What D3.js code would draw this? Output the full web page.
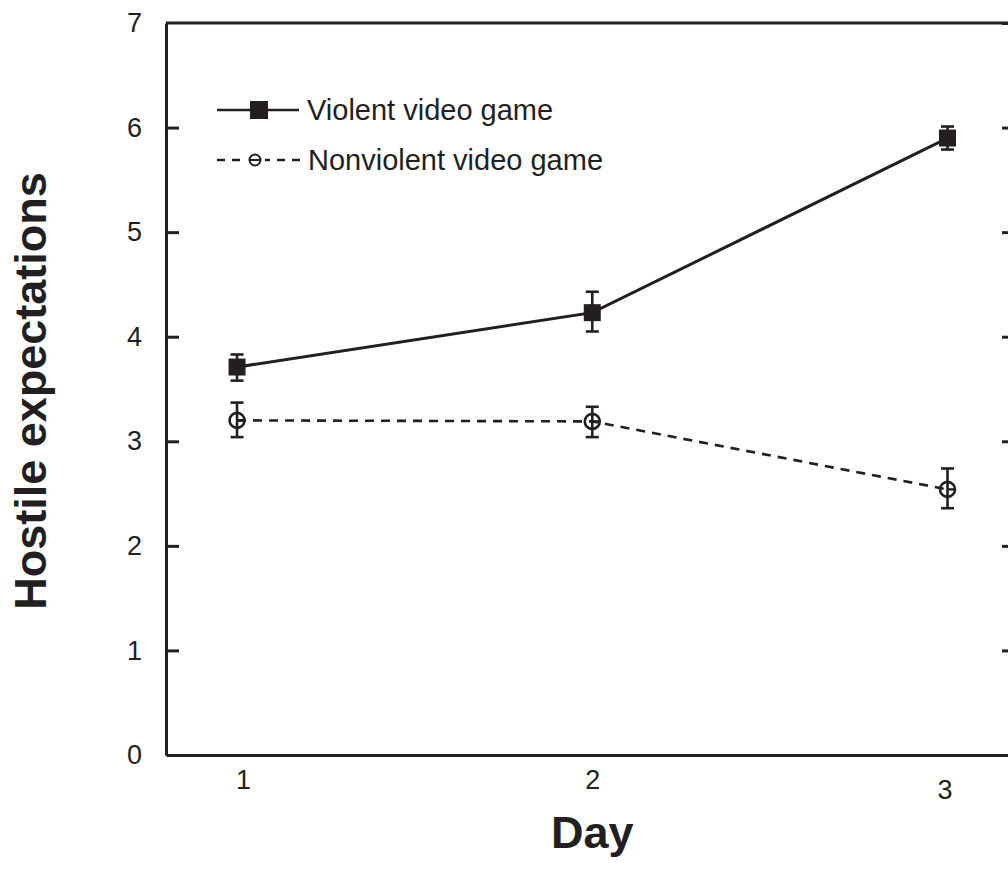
<!DOCTYPE html>
<meta charset="utf-8">
<style>
    body { margin: 0; background: #fff; }
    svg { display: block; }
    .axis text {
        font: 27px Arial, "Liberation Sans", Helvetica, sans-serif;
        fill: #231f20;
    }
    .axis path, .axis line {
        stroke: #231f20;
        stroke-width: 3px;
    }
    .title {
        font: bold 45px Arial, "Liberation Sans", Helvetica, sans-serif;
        fill: #231f20;
        text-anchor: middle;
    }
    .legend text {
        font: 29px Arial, "Liberation Sans", Helvetica, sans-serif;
        fill: #231f20;
    }
</style>
<svg width="1008" height="885"></svg>
<script src="https://d3js.org/d3.v7.min.js"></script>
<script>

    // values
    var days = [1, 2, 3];
    var yTicks = [0, 1, 2, 3, 4, 5, 6, 7];

    var violentMean = [3.71, 4.23, 5.90];
    var violentLow  = [3.58, 4.05, 5.79];
    var violentHigh = [3.83, 4.43, 6.01];

    var nonviolentMean = [3.20, 3.19, 2.54];
    var nonviolentLow  = [3.04, 3.04, 2.36];
    var nonviolentHigh = [3.37, 3.33, 2.74];

    var seriesNames = ["Violent video game", "Nonviolent video game"];

    var ink = "#231f20";

    var svg = d3.select("svg");

    var mLeft = 166, mRight = 1015, mTop = 23, mBottom = 755;

    var x = d3.scaleLinear().domain([0.8, 3.19]).range([mLeft, mRight]);
    var y = d3.scaleLinear().domain([0, 7]).range([mBottom, mTop]);

    // frame: left axis with labels, right axis ticks only, top + bottom lines
    svg.append("g")
        .attr("class", "axis")
        .attr("transform", "translate(" + mLeft + ",0)")
        .call(d3.axisLeft(y).tickValues(yTicks).tickSize(-13).tickSizeOuter(0).tickPadding(24).tickFormat(d3.format("d")))
        .call(function (g) { g.selectAll(".tick").filter(function (d) { return d === 0 || d === 7; }).select("line").remove(); });

    svg.append("g")
        .attr("class", "axis")
        .attr("transform", "translate(" + mRight + ",0)")
        .call(d3.axisRight(y).tickValues(yTicks).tickSize(-13).tickSizeOuter(0).tickFormat(""));

    svg.append("g")
        .attr("class", "axis")
        .attr("transform", "translate(0," + mBottom + ")")
        .call(d3.axisBottom(x).tickValues(days).tickSize(0).tickSizeOuter(0).tickPadding(14).tickFormat(d3.format("d")))
        .call(function (g) { g.selectAll(".tick text").attr("dx", function (d) { return d === 1 ? 6 : d === 3 ? -3 : 0; })
            .attr("dy", function (d) { return d === 3 ? "1.1em" : "0.75em"; }); });

    svg.append("line")
        .attr("x1", mLeft).attr("x2", mRight)
        .attr("y1", mTop).attr("y2", mTop)
        .attr("stroke", ink).attr("stroke-width", 3);

    // axis titles
    svg.append("text")
        .attr("class", "title")
        .attr("x", (x(1) + x(3)) / 2)
        .attr("y", 848)
        .text("Day");

    svg.append("text")
        .attr("class", "title")
        .attr("transform", "translate(46," + (y(3.5) + 2) + ") rotate(-90)")
        .text("Hostile expectations");

    var line = d3.line()
        .x(function (d, i) { return x(days[i]); })
        .y(function (d) { return y(d); });

    // nonviolent: dashed line, error bars, open circles
    svg.append("path")
        .datum(nonviolentMean)
        .attr("d", line)
        .attr("fill", "none")
        .attr("stroke", ink)
        .attr("stroke-width", 2.6)
        .attr("stroke-dasharray", "9,7");

    function errorBars(low, high) {
        var g = svg.append("g").attr("stroke", ink).attr("stroke-width", 2.6);
        days.forEach(function (d, i) {
            g.append("line")
                .attr("x1", x(d)).attr("x2", x(d))
                .attr("y1", y(low[i])).attr("y2", y(high[i]));
            [low[i], high[i]].forEach(function (v) {
                g.append("line")
                    .attr("x1", x(d) - 6.5).attr("x2", x(d) + 6.5)
                    .attr("y1", y(v)).attr("y2", y(v));
            });
        });
    }

    errorBars(nonviolentLow, nonviolentHigh);

    svg.append("g").selectAll("circle")
        .data(nonviolentMean)
        .join("circle")
        .attr("cx", function (d, i) { return x(days[i]); })
        .attr("cy", function (d) { return y(d); })
        .attr("r", 7.5)
        .attr("fill", "none")
        .attr("stroke", ink)
        .attr("stroke-width", 2.6);

    svg.append("g").selectAll("line")
        .data(nonviolentMean)
        .join("line")
        .attr("x1", function (d, i) { return x(days[i]); })
        .attr("x2", function (d, i) { return x(days[i]) + 8; })
        .attr("y1", function (d) { return y(d); })
        .attr("y2", function (d) { return y(d); })
        .attr("stroke", ink)
        .attr("stroke-width", 2.4);

    // violent: solid line, error bars, filled squares
    svg.append("path")
        .datum(violentMean)
        .attr("d", line)
        .attr("fill", "none")
        .attr("stroke", ink)
        .attr("stroke-width", 3);

    errorBars(violentLow, violentHigh);

    var sq = 17;
    svg.append("g").selectAll("rect")
        .data(violentMean)
        .join("rect")
        .attr("x", function (d, i) { return x(days[i]) - sq / 2; })
        .attr("y", function (d) { return y(d) - sq / 2; })
        .attr("width", sq)
        .attr("height", sq)
        .attr("fill", ink);

    // legend
    var legend = svg.append("g").attr("class", "legend");

    legend.append("line")
        .attr("x1", 217).attr("x2", 299)
        .attr("y1", 110).attr("y2", 110)
        .attr("stroke", ink).attr("stroke-width", 2.6);
    legend.append("rect")
        .attr("x", 250).attr("y", 101)
        .attr("width", 18).attr("height", 18)
        .attr("fill", ink);
    legend.append("text")
        .attr("x", 307).attr("y", 110).attr("dy", "0.36em")
        .text(seriesNames[0]);

    legend.append("line")
        .attr("x1", 217).attr("x2", 304)
        .attr("y1", 160).attr("y2", 160)
        .attr("stroke", ink).attr("stroke-width", 2.4)
        .attr("stroke-dasharray", "8,7");
    legend.append("rect")
        .attr("x", 245).attr("y", 150)
        .attr("width", 20).attr("height", 20)
        .attr("fill", "#fff");
    legend.append("circle")
        .attr("cx", 255).attr("cy", 160).attr("r", 5.5)
        .attr("fill", "none").attr("stroke", ink).attr("stroke-width", 2);
    legend.append("line")
        .attr("x1", 250).attr("x2", 260)
        .attr("y1", 160).attr("y2", 160)
        .attr("stroke", ink).attr("stroke-width", 2);
    legend.append("text")
        .attr("x", 308).attr("y", 160).attr("dy", "0.36em")
        .text(seriesNames[1]);

</script>
